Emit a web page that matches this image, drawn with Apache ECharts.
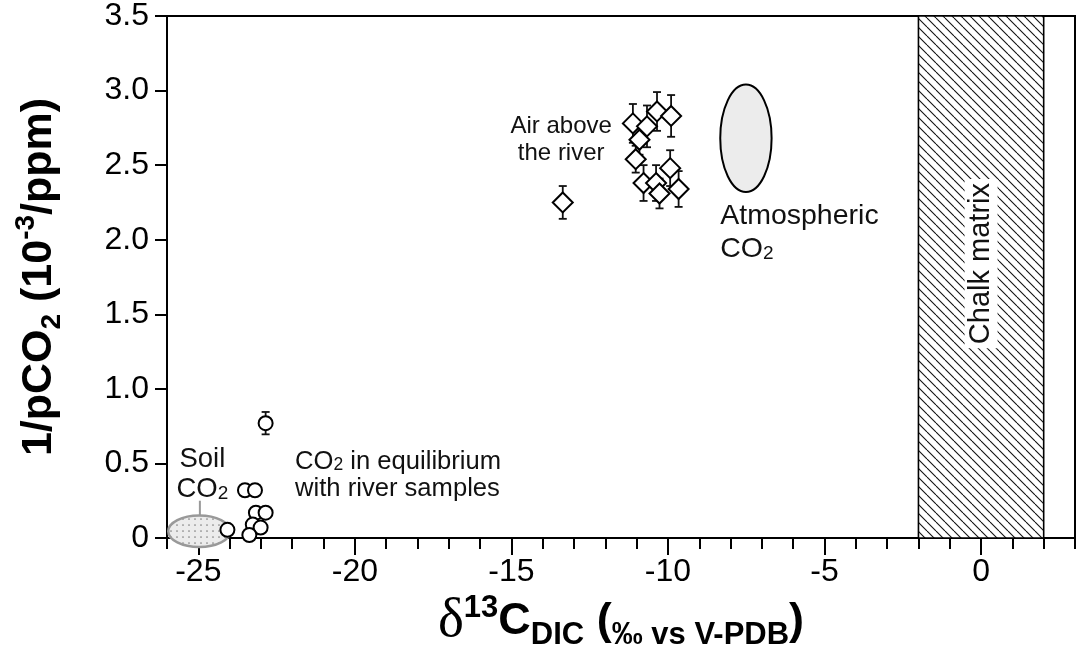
<!DOCTYPE html>
<html>
<head>
<meta charset="utf-8">
<script src="https://cdn.jsdelivr.net/npm/echarts@6/dist/echarts.min.js"></script>
<style>html,body{margin:0;padding:0;background:#fff}#chart{width:1080px;height:648px}</style>
</head>
<body>
<div id="chart"></div>
<script>
// ---------------- data ----------------
// Air above the river (diamonds) : δ13C, 1/pCO2, error
const airX   = [-11.12, -10.35, -9.90, -10.67, -10.91, -11.03, -9.93, -10.78, -10.38, -10.27, -9.66, -13.36];
const airY   = [2.78, 2.86, 2.83, 2.76, 2.67, 2.54, 2.48, 2.38, 2.38, 2.31, 2.34, 2.25];
const airErr = [0.13, 0.13, 0.14, 0.14, 0.10, 0.09, 0.12, 0.12, 0.12, 0.10, 0.12, 0.11];
// CO2 in equilibrium with river samples (circles)
const riverX   = [-22.85, -23.51, -23.19, -23.16, -22.85, -23.26, -23.01, -23.37, -24.07];
const riverY   = [0.77, 0.32, 0.32, 0.17, 0.17, 0.09, 0.07, 0.02, 0.055];
const riverErr = [0.075, 0, 0, 0, 0, 0, 0, 0, 0];
// Ellipses: [centre x, centre y, half-width x, half-height y]
const atmEllipse  = [-7.51, 2.68, 0.82, 0.36];
const soilEllipse = [-24.97, 0.045, 0.99, 0.106];
const soilLeader  = [-24.95, 0.25, 0.151];
// Chalk matrix band (x range)
const chalkRange = [-2, 2];
// Axis ticks
const xMajorTicks = [-25, -20, -15, -10, -5, 0];
const xRange = [-26, 3];
const yRange = [0, 3.5];
// Annotations: text (rich) and anchor in data units
const annoTexts = [
  '{t|Air above}\n{t|the river}',
  '{a|Atmospheric}\n{a|CO}{as|2}',
  '{s|Soil}\n{s|CO}{ss|2}',
  '{e|CO}{es|2}{e| in equilibrium}\n{e|with river samples}',
  '{c|Chalk matrix}'
];
const annoX = [-13.41, -8.33, -24.87, -21.91, 0.0];
const annoY = [2.67, 2.285, 0.635, 0.607, 1.84];

// ---------------- patterns ----------------
function hatchPattern() {
  const s = 9, c = document.createElement('canvas');
  c.width = s; c.height = s;
  const g = c.getContext('2d');
  g.fillStyle = '#fff'; g.fillRect(0, 0, s, s);
  g.strokeStyle = '#111'; g.lineWidth = 1.1;
  for (let k = -1; k <= 1; k++) {
    g.beginPath(); g.moveTo(k * s, 0); g.lineTo(k * s + s, s); g.stroke();
  }
  return c;
}
function dotPattern() {
  const s = 6, c = document.createElement('canvas');
  c.width = s; c.height = s;
  const g = c.getContext('2d');
  g.fillStyle = '#ececec'; g.fillRect(0, 0, s, s);
  g.fillStyle = '#808080';
  g.beginPath(); g.arc(3, 3, 0.85, 0, Math.PI * 2); g.fill();
  return c;
}
const hatch = { image: hatchPattern(), repeat: 'repeat' };
const dots = { image: dotPattern(), repeat: 'repeat' };

const FONT = 'Liberation Sans, Arial, sans-serif';
const TXT = '#111';

const airData = airX.map((x, i) => [x, airY[i]]);
const riverData = riverX.map((x, i) => [x, riverY[i]]);
const errData = airX.map((x, i) => [x, airY[i], airErr[i]])
  .concat(riverX.map((x, i) => [x, riverY[i], riverErr[i]]));

const chart = echarts.init(document.getElementById('chart'), null, { renderer: 'canvas' });

const annoStyles = [
  { align: 'center', verticalAlign: 'middle', rotation: 0 },
  { align: 'left', verticalAlign: 'top', rotation: 0 },
  { align: 'center', verticalAlign: 'top', rotation: 0 },
  { align: 'left', verticalAlign: 'top', rotation: 0 },
  { align: 'center', verticalAlign: 'middle', rotation: Math.PI / 2, bg: '#fff' }
];

const rich = {
  t: { fontSize: 24, lineHeight: 27, fontFamily: FONT, color: TXT },
  a: { fontSize: 28.5, lineHeight: 33, fontFamily: FONT, color: TXT, verticalAlign: 'bottom' },
  as: { fontSize: 19, lineHeight: 21, fontFamily: FONT, color: TXT, verticalAlign: 'bottom' },
  s: { fontSize: 27.5, lineHeight: 30, fontFamily: FONT, color: TXT, verticalAlign: 'bottom' },
  ss: { fontSize: 19, lineHeight: 19, fontFamily: FONT, color: TXT, verticalAlign: 'bottom' },
  e: { fontSize: 25.6, lineHeight: 27, fontFamily: FONT, color: TXT, verticalAlign: 'bottom' },
  es: { fontSize: 17.5, lineHeight: 17, fontFamily: FONT, color: TXT, verticalAlign: 'bottom' },
  c: { fontSize: 29, lineHeight: 31, fontFamily: FONT, color: TXT }
};

function ellipseItem(fill, stroke, lw) {
  return function (params, api) {
    const c = api.coord([api.value(0), api.value(1)]);
    const s = api.size([api.value(2), api.value(3)]);
    return {
      type: 'ellipse',
      shape: { cx: c[0], cy: c[1], rx: s[0], ry: s[1] },
      style: { fill: fill, stroke: stroke, lineWidth: lw }
    };
  };
}

const option = {
  backgroundColor: '#fff',
  animation: false,
  grid: {
    left: 167, right: 5, top: 16, bottom: 110,
    show: true, borderColor: '#000', borderWidth: 2, backgroundColor: 'transparent',
    containLabel: false, outerBoundsMode: 'none'
  },
  xAxis: [
    {
      type: 'value', min: xRange[0], max: xRange[1], position: 'bottom',
      axisLine: { show: true, onZero: false, lineStyle: { color: '#000', width: 2 } },
      axisTick: { show: true, customValues: xMajorTicks, length: 17, lineStyle: { color: '#000', width: 2 } },
      axisLabel: { customValues: xMajorTicks, color: '#000', fontSize: 32, fontFamily: FONT, margin: 18 },
      splitLine: { show: false },
      name: '{d|δ}{sup|13}{b|C}{sub|DIC}{b| (}{s|‰ vs V-PDB}{b|)}',
      nameLocation: 'middle', nameGap: 44,
      nameTextStyle: {
        rich: {
          d: { fontFamily: 'Liberation Serif, serif', fontSize: 55, lineHeight: 58, color: '#000', verticalAlign: 'middle' },
          sup: { fontFamily: FONT, fontWeight: 'bold', fontSize: 31, lineHeight: 28, color: '#000', verticalAlign: 'top' },
          b: { fontFamily: FONT, fontWeight: 'bold', fontSize: 45, lineHeight: 58, color: '#000', verticalAlign: 'middle' },
          sub: { fontFamily: FONT, fontWeight: 'bold', fontSize: 31, lineHeight: 32, color: '#000', verticalAlign: 'bottom' },
          s: { fontFamily: FONT, fontWeight: 'bold', fontSize: 31, lineHeight: 52, color: '#000', verticalAlign: 'bottom' }
        }
      }
    },
    {
      type: 'value', min: xRange[0], max: xRange[1], interval: 1, position: 'bottom',
      axisLine: { show: false },
      axisTick: { show: true, length: 11, lineStyle: { color: '#000', width: 2 } },
      axisLabel: { show: false },
      splitLine: { show: false }
    }
  ],
  yAxis: {
    type: 'value', min: yRange[0], max: yRange[1], interval: 0.5,
    axisLine: { show: true, onZero: false, lineStyle: { color: '#000', width: 2 } },
    axisTick: { show: true, length: 12, lineStyle: { color: '#000', width: 2 } },
    axisLabel: { color: '#000', fontSize: 32, fontFamily: FONT, margin: 18,
      formatter: v => (v === 0 ? '0' : v.toFixed(1)) },
    splitLine: { show: false },
    name: '{b|1/pCO}{sub|2}{b| (10}{sup|-3}{b|/ppm)}',
    nameLocation: 'middle', nameRotate: 90, nameGap: 101,
    nameTextStyle: {
      rich: {
        b: { fontFamily: FONT, fontWeight: 'bold', fontSize: 43, lineHeight: 54, color: '#000', verticalAlign: 'middle' },
        sub: { fontFamily: FONT, fontWeight: 'bold', fontSize: 28, lineHeight: 31, color: '#000', verticalAlign: 'bottom' },
        sup: { fontFamily: FONT, fontWeight: 'bold', fontSize: 28, lineHeight: 29, color: '#000', verticalAlign: 'top' }
      }
    }
  },
  series: [
    {
      name: 'Chalk matrix', type: 'custom', z: 1,
      data: [chalkRange],
      renderItem: function (params, api) {
        const p0 = api.coord([api.value(0), yRange[1]]);
        const p1 = api.coord([api.value(1), yRange[0]]);
        return {
          type: 'rect',
          shape: { x: p0[0], y: p0[1], width: p1[0] - p0[0], height: p1[1] - p0[1] },
          style: { fill: hatch, stroke: '#000', lineWidth: 1.6 }
        };
      }
    },
    {
      name: 'Atmospheric CO2', type: 'custom', z: 2,
      data: [atmEllipse],
      renderItem: ellipseItem('#ececec', '#000', 2)
    },
    {
      name: 'Soil leader', type: 'custom', z: 2,
      data: [soilLeader],
      renderItem: function (params, api) {
        const a = api.coord([api.value(0), api.value(1)]);
        const b = api.coord([api.value(0), api.value(2)]);
        return { type: 'line', shape: { x1: a[0], y1: a[1], x2: b[0], y2: b[1] },
          style: { stroke: '#999', lineWidth: 2 } };
      }
    },
    {
      name: 'Soil CO2', type: 'custom', z: 2,
      data: [soilEllipse],
      renderItem: ellipseItem(dots, '#999', 2.5)
    },
    {
      name: 'Error bars', type: 'custom', z: 3,
      data: errData,
      renderItem: function (params, api) {
        const x = api.value(0), y = api.value(1), e = api.value(2);
        if (!e) return null;
        const t = api.coord([x, y + e]), b = api.coord([x, y - e]);
        const st = { stroke: '#111', lineWidth: 1.8 };
        return {
          type: 'group', children: [
            { type: 'line', shape: { x1: t[0], y1: t[1], x2: b[0], y2: b[1] }, style: st },
            { type: 'line', shape: { x1: t[0] - 4, y1: t[1], x2: t[0] + 4, y2: t[1] }, style: st },
            { type: 'line', shape: { x1: b[0] - 4, y1: b[1], x2: b[0] + 4, y2: b[1] }, style: st }
          ]
        };
      }
    },
    {
      name: 'Air above the river', type: 'scatter', z: 4,
      symbol: 'diamond', symbolSize: 20,
      itemStyle: { color: '#fff', borderColor: '#000', borderWidth: 2, opacity: 1 },
      data: airData
    },
    {
      name: 'CO2 in equilibrium with river samples', type: 'scatter', z: 4,
      symbol: 'circle', symbolSize: 14,
      itemStyle: { color: '#fff', borderColor: '#000', borderWidth: 2, opacity: 1 },
      data: riverData
    },
    {
      name: 'Annotations', type: 'custom', z: 6,
      data: annoX.map((x, i) => [x, annoY[i], i]),
      renderItem: function (params, api) {
        const i = api.value(2);
        const p = api.coord([api.value(0), api.value(1)]);
        const st = annoStyles[i];
        const style = {
          text: annoTexts[i], rich: rich,
          align: st.align, verticalAlign: st.verticalAlign,
          fill: TXT, font: '24px ' + FONT
        };
        if (st.bg) { style.backgroundColor = st.bg; style.padding = [1, 4, 1, 4]; }
        return { type: 'text', x: p[0], y: p[1], rotation: st.rotation, style: style };
      }
    }
  ]
};
chart.setOption(option);
</script>
</body>
</html>
